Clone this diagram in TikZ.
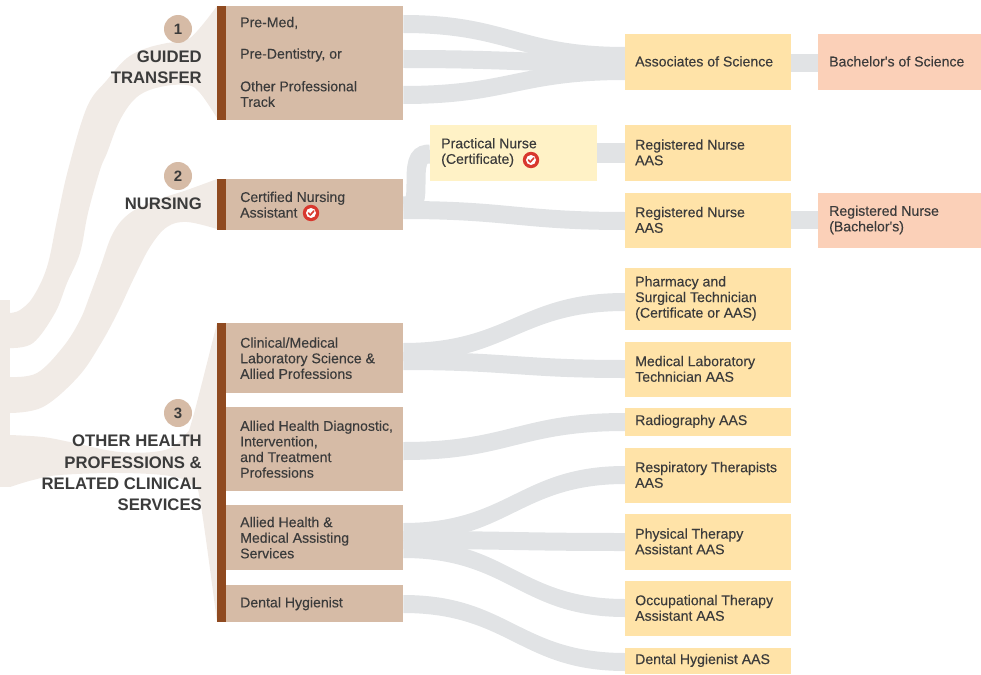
\documentclass[tikz,border=0pt]{standalone}
\usepackage{fontspec}
\setmainfont{Liberation Sans}
\newfontface\lblfont{Liberation Sans}[FakeBold=0.2]
\usetikzlibrary{backgrounds}
\definecolor{brownbox}{HTML}{D6BBA6}
\definecolor{barcol}{HTML}{8F4A20}
\definecolor{yellowbox}{HTML}{FFE3A8}
\definecolor{paleyellow}{HTML}{FFF2C6}
\definecolor{pinkbox}{HTML}{FBD0B8}
\definecolor{greyflow}{HTML}{E1E3E5}
\definecolor{beigeflow}{HTML}{F1EBE6}
\definecolor{inkcol}{HTML}{3B3B3B}
\definecolor{badgered}{HTML}{D8382E}
\newcommand{\bx}[8]{%
  \pgfmathsetmacro{\bw}{#5-#3}\pgfmathsetmacro{\bh}{#6-#4}%
  \node[fill=#2,draw=none,inner sep=0pt,minimum width=\bw pt,minimum height=\bh pt,anchor=north west] (#1) at (#3,#4) {};%
  \ifx\relax#7\relax\else
  \node[lbl,anchor=west] (#1txt) at ([xshift=#7pt,yshift=#8pt]#1.west) {\csname txt#1\endcsname};\fi}
\newcommand{\txtcna}{Certified Nursing\\Assistant}
\newcommand{\txtlab}{Clinical/Medical\\Laboratory Science \&\\Allied Professions}
\newcommand{\txtdiag}{Allied Health Diagnostic,\\Intervention,\\and Treatment\\Professions}
\newcommand{\txtmed}{Allied Health \&\\Medical Assisting\\Services}
\newcommand{\txtdent}{Dental Hygienist}
\newcommand{\txtas}{Associates of Science}
\newcommand{\txtbs}{Bachelor's of Science}
\newcommand{\txtpn}{Practical Nurse\\(Certificate)}
\newcommand{\txtrna}{Registered Nurse\\AAS}
\newcommand{\txtrnb}{Registered Nurse\\AAS}
\newcommand{\txtrnc}{Registered Nurse\\(Bachelor's)}
\newcommand{\txtpha}{Pharmacy and\\Surgical Technician\\(Certificate or AAS)}
\newcommand{\txtmlt}{Medical Laboratory\\Technician AAS}
\newcommand{\txtrad}{Radiography AAS}
\newcommand{\txtres}{Respiratory Therapists\\AAS}
\newcommand{\txtpta}{Physical Therapy\\Assistant AAS}
\newcommand{\txtota}{Occupational Therapy\\Assistant AAS}
\newcommand{\txtdha}{Dental Hygienist AAS}
% ribbon of constant vertical thickness from one node to another
\newcommand{\rib}[4]{%
  \pgfmathsetmacro{\ya}{#2-9}\pgfmathsetmacro{\yb}{#2+9}%
  \pgfmathsetmacro{\yc}{#4-9}\pgfmathsetmacro{\yd}{#4+9}%
  \fill[greyflow] (#1.east |- 0,\ya) .. controls +(105,0) and +(-105,0) .. (#3.west |- 0,\yc)
    -- (#3.west |- 0,\yd) .. controls +(-105,0) and +(105,0) .. (#1.east |- 0,\yb) -- cycle;}
\tikzset{
  x=1pt,y=-1pt,
  lbl/.style={font=\fontsize{14.1}{15.6}\lblfont,text=inkcol,align=left,inner sep=0pt},
  head/.style={font=\fontsize{16.7}{21.2}\selectfont\bfseries,text=inkcol,align=right,inner sep=0pt,anchor=east},
  numdot/.style={circle,fill=brownbox,minimum size=28pt,inner sep=0pt,font=\fontsize{15}{15}\selectfont\bfseries,text=inkcol},
  flow/.style={draw=greyflow,line width=18pt,line cap=butt},
  beige/.style={fill=beigeflow,draw=none},
  pics/badge/.style={code={
    \fill[badgered] (0,0) circle (8.2);
    \fill[white] (0,0) circle (5);
    \draw[badgered,line width=1.6pt,line cap=round,line join=round] (-2.6,0) -- (-0.7,2) -- (2.8,-2);
  }}
}
\begin{document}
\begin{tikzpicture}
\useasboundingbox (0,0) rectangle (981,674);

% brown boxes
\bx{gt}{brownbox}{226}{6}{403}{120}{}{0}
\bx{cna}{brownbox}{226}{179}{403}{230}{14}{0}
\bx{lab}{brownbox}{226}{323}{403}{393}{14}{0}
\bx{diag}{brownbox}{226}{407}{403}{491}{14}{0}
\bx{med}{brownbox}{226}{505}{403}{570}{14}{0}
\bx{dent}{brownbox}{226}{585}{403}{622}{14}{0}
% bars
\node[fill=barcol,inner sep=0pt,minimum width=9pt,minimum height=114pt,anchor=north west] (bara) at (217,6) {};
\node[fill=barcol,inner sep=0pt,minimum width=9pt,minimum height=51pt,anchor=north west] (barb) at (217,179) {};
\node[fill=barcol,inner sep=0pt,minimum width=9pt,minimum height=299pt,anchor=north west] (barc) at (217,323) {};
% box 1 texts
\node[lbl,anchor=west] (premed) at (240,23) {Pre-Med,};
\node[lbl,anchor=west] (predent) at (240,55) {Pre-Dentistry, or};
\node[lbl,anchor=west] (other) at (240,94) {Other Professional\\Track};
% yellow column
\bx{pn}{paleyellow}{430}{125}{597}{181}{11}{0.8}
\bx{as}{yellowbox}{625}{34}{791}{90}{10}{0.8}
\bx{rna}{yellowbox}{625}{125}{791}{181}{10}{0.8}
\bx{rnb}{yellowbox}{625}{193}{791}{248}{10}{0.8}
\bx{pha}{yellowbox}{625}{268}{791}{330}{10}{0.8}
\bx{mlt}{yellowbox}{625}{342}{791}{397}{10}{0.8}
\bx{rad}{yellowbox}{625}{408}{791}{436}{10}{0.8}
\bx{res}{yellowbox}{625}{448}{791}{503}{10}{0.8}
\bx{pta}{yellowbox}{625}{514}{791}{570}{10}{0.8}
\bx{ota}{yellowbox}{625}{581}{791}{636}{10}{0.8}
\bx{dha}{yellowbox}{625}{648}{791}{674}{10}{0.8}
% pink
\bx{bs}{pinkbox}{818}{34}{981}{90}{11}{0.8}
\bx{rnc}{pinkbox}{818}{193}{981}{248}{11}{0.8}
% badges
\pic (cnabadge) at (311,213) {badge};
\pic (pnbadge) at (531,160) {badge};
% heads
\node[numdot] (n1) at (178,29) {1};
\node[numdot] (n2) at (178,176) {2};
\node[numdot] (n3) at (178,413) {3};
\node[head] (h1) at (202,67) {GUIDED\\TRANSFER};
\node[head] (h2) at (202,204) {NURSING};
\node[head] (h3) at (202,473) {OTHER HEALTH\\PROFESSIONS \&\\RELATED CLINICAL\\SERVICES};

\begin{scope}[on background layer]
% beige trunk
\fill[beige] (0,300) rectangle (10,487);
\fill[beige] plot[smooth,tension=0.6] coordinates {(10,313) (20,310) (33,297) (47,267) (57,220) (68,170) (87,107) (107,80) (127,58) (147,48) (167,43) (190,38) (217,6)}
  -- plot[smooth,tension=0.6] coordinates {(217,118) (200,93) (187,85) (160,87) (137,97) (120,120) (107,153) (100,170) (88,213) (80,253) (67,283) (55,313) (33,343) (10,348)} -- cycle;
\fill[beige] plot[smooth,tension=0.6] coordinates {(10,377) (37,373) (63,347) (80,320) (90,295) (100,268) (113,233) (130,213) (157,200) (187,190) (217,179)}
  -- plot[smooth,tension=0.6] coordinates {(217,229) (187,222) (167,227) (150,247) (133,280) (118,312) (100,345) (78,377) (43,407) (10,413)} -- cycle;
\fill[beige] plot[smooth,tension=0.6] coordinates {(10,435) (43,437) (70,442) (120,452) (165,450) (185,435) (193,417) (217,323)}
  -- plot[smooth,tension=0.6] coordinates {(217,622) (200,500) (192,485) (170,476) (120,473) (60,475) (33,480) (10,487)} -- cycle;
% grey ribbons
\rib{gt}{24}{as}{56}
\rib{gt}{59}{as}{63}
\rib{gt}{95}{as}{71}
\draw[flow] (as.east |- 0,63) -- (bs.west |- 0,63);
\draw[flow,line width=20pt] (pn.east |- 0,153) -- (rna.west |- 0,153);
\rib{cna}{210}{rnb}{221}
\draw[flow,line width=19pt] (cna.east |- 0,206) .. controls (416,206) and (416,200) .. (416,180) .. controls (416,158) and (420,154) .. (pn.west |- 0,154);
\draw[flow] (rnb.east |- 0,220) -- (rnc.west |- 0,220);
\rib{lab}{352}{pha}{302}
\rib{lab}{361}{mlt}{369}
\rib{diag}{451}{rad}{422}
\rib{med}{532}{res}{475}
\rib{med}{540}{pta}{542}
\rib{med}{549}{ota}{608}
\rib{dent}{604}{dha}{662}
\end{scope}
\end{tikzpicture}
\end{document}
